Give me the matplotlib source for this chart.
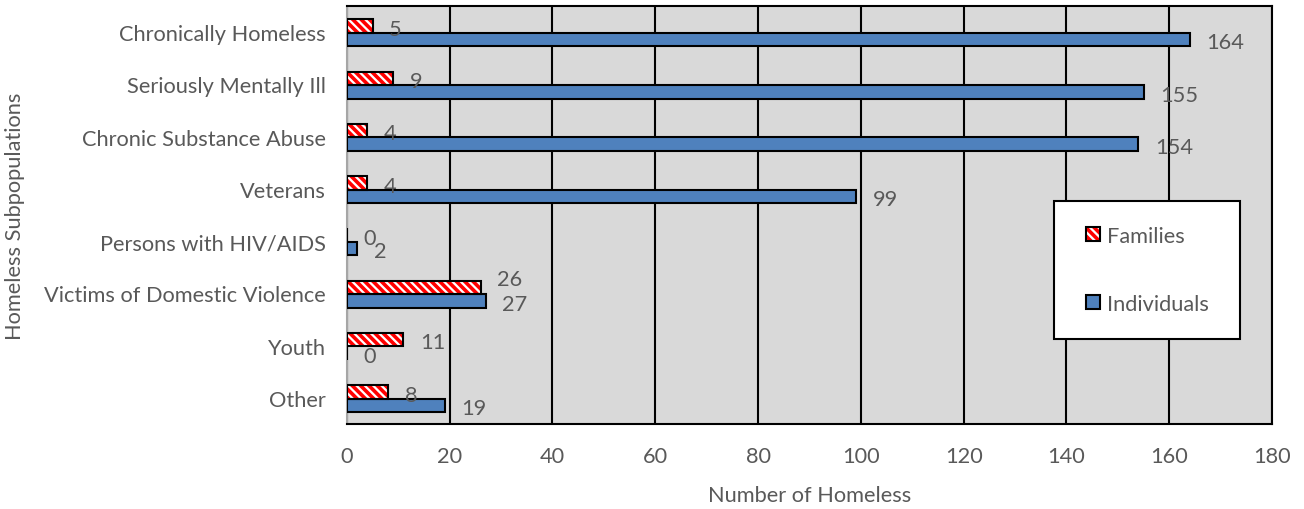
import numpy as np
import matplotlib.pyplot as plt
from matplotlib.patches import Patch, Rectangle

categories = ['Chronically Homeless', 'Seriously Mentally Ill', 'Chronic Substance Abuse',
              'Veterans', 'Persons with HIV/AIDS', 'Victims of Domestic Violence',
              'Youth', 'Other']
families = [5, 9, 4, 4, 0, 26, 11, 8]
individuals = [164, 155, 154, 99, 2, 27, 0, 19]

plt.rcParams['font.family'] = ['Lato', 'DejaVu Sans']
plt.rcParams['hatch.linewidth'] = 2.6
txt = '#595959'
blue = '#4F81BD'
fs = 15.7

fig = plt.figure(figsize=(13.04, 5.10), dpi=100)
ax = fig.add_axes([0.266, 0.1667, 0.7095, 0.8196])
ax.set_facecolor('#D9D9D9')

y = np.arange(len(categories))
h = 0.26
off = 0.015

# families: red/white stripes, then a black outline on top
ax.barh(y - h / 2 + off, families, height=h, color='white', edgecolor='#FF0000',
        hatch='\\\\\\\\', linewidth=0, zorder=3)
ax.barh(y - h / 2 + off, families, height=h, color='none', edgecolor='black',
        linewidth=1.5, zorder=4)
ax.barh(y + h / 2 + off, individuals, height=h, color=blue, edgecolor='black',
        linewidth=1.5, zorder=3)

for i, (yi, v) in enumerate(zip(y, families)):
    dy = 6 if categories[i] == 'Victims of Domestic Violence' else -2
    ax.annotate(str(v), (v, yi - h / 2 + off), xytext=(12, dy), textcoords='offset points',
                va='center', ha='left', fontsize=fs, color=txt)
for yi, v in zip(y, individuals):
    ax.annotate(str(v), (v, yi + h / 2 + off), xytext=(12, -2), textcoords='offset points',
                va='center', ha='left', fontsize=fs, color=txt)

ax.set_xlim(0, 180)
ax.set_ylim(len(categories) - 0.5, -0.5)
ax.set_xticks(np.arange(0, 181, 20))
ax.set_yticks(y)
ax.set_yticklabels(categories)
ax.tick_params(axis='both', length=0, labelsize=fs, labelcolor=txt)
ax.tick_params(axis='x', pad=15.5)
ax.tick_params(axis='y', pad=15)
ax.xaxis.grid(True, color='black', linewidth=1.5, zorder=1)
ax.set_axisbelow(True)
for s in ['top', 'right', 'bottom']:
    ax.spines[s].set_color('black')
    ax.spines[s].set_linewidth(1.5)
ax.spines['left'].set_color('#A6A6A6')
ax.spines['left'].set_linewidth(1.5)

ax.set_xlabel('Number of Homeless', fontsize=fs, color=txt, labelpad=14)
ax.set_ylabel('Homeless Subpopulations', fontsize=fs, color=txt, labelpad=14)

# legend box
ax.add_patch(Rectangle((0.7643, 0.2033), 0.2011, 0.3302, transform=ax.transAxes,
                       facecolor='white', edgecolor='black', linewidth=1.5, zorder=9))
fam_handle = (Patch(facecolor='white', edgecolor='#FF0000', hatch='\\\\\\\\', linewidth=0),
              Patch(facecolor='none', edgecolor='black', linewidth=1.5))
ind_handle = Patch(facecolor=blue, edgecolor='black', linewidth=1.5)
leg = ax.legend([fam_handle, ind_handle], ['Families', 'Individuals'],
                loc='center left', bbox_to_anchor=(0.799, 0.3684), fontsize=fs,
                labelcolor=txt, frameon=False, handlelength=0.62, handleheight=0.62,
                handletextpad=0.35, labelspacing=2.2, borderpad=0, borderaxespad=0)
leg.set_zorder(10)

fig.savefig('out.png', dpi=100)
